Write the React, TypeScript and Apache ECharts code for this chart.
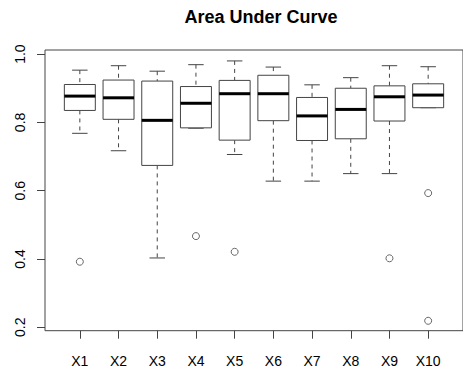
import React, { useEffect, useRef } from "react";
import * as echarts from "echarts";

const categories = ["X1", "X2", "X3", "X4", "X5", "X6", "X7", "X8", "X9", "X10"];
const lowerWhiskers = [0.768, 0.717, 0.403, 0.783, 0.706, 0.628, 0.628, 0.65, 0.65, 0.843];
const q1s = [0.835, 0.809, 0.674, 0.784, 0.748, 0.805, 0.747, 0.752, 0.804, 0.843];
const medians = [0.877, 0.872, 0.806, 0.856, 0.884, 0.884, 0.819, 0.838, 0.875, 0.88];
const q3s = [0.911, 0.924, 0.921, 0.905, 0.923, 0.938, 0.873, 0.9, 0.907, 0.913];
const upperWhiskers = [0.953, 0.966, 0.95, 0.969, 0.98, 0.962, 0.91, 0.931, 0.966, 0.963];
const outlierCategory = ["X1", "X4", "X5", "X9", "X10", "X10"];
const outlierValues = [0.392, 0.467, 0.421, 0.402, 0.593, 0.219];
const yTicks = [0.2, 0.4, 0.6, 0.8, 1.0];

const FONT = "'Liberation Sans', Arial, Helvetica, sans-serif";
const LINE = "#444";

export default function App() {
  const ref = useRef<HTMLDivElement>(null);
  useEffect(() => {
    document.body.style.margin = "0";
    const chart = echarts.init(ref.current!, null, { renderer: "svg" });
    const boxData = categories.map((c, i) => [
      i + 1,
      lowerWhiskers[i],
      q1s[i],
      medians[i],
      q3s[i],
      upperWhiskers[i],
    ]);
    const outlierData = outlierCategory.map((c, i) => [categories.indexOf(c) + 1, outlierValues[i]]);
    const xPositions = categories.map((_, i) => i + 1);

    chart.setOption({
      animation: false,
      backgroundColor: "#fff",
      title: {
        text: "Area Under Curve",
        left: 256,
        top: 3,
        textAlign: "center",
        textStyle: { fontFamily: FONT, fontSize: 18, fontWeight: "bold", color: "#000" },
      },
      grid: {
        left: 45,
        top: 50,
        width: 422.5,
        height: 280.7,
        show: true,
        borderColor: LINE,
        borderWidth: 1,
        backgroundColor: "transparent",
      },
      xAxis: {
        type: "value",
        min: 0.1,
        max: 10.9,
        splitLine: { show: false },
        axisLine: { show: false },
        axisTick: { show: true, length: 8, customValues: xPositions, lineStyle: { color: LINE } },
        axisLabel: {
          customValues: xPositions,
          formatter: (v: number) => categories[Math.round(v) - 1] ?? "",
          margin: 23,
          fontFamily: FONT,
          fontSize: 14,
          color: "#000",
        },
      },
      yAxis: {
        type: "value",
        min: 0.19,
        max: 1.012,
        splitLine: { show: false },
        axisLine: { show: false },
        axisTick: { show: true, length: 8, customValues: yTicks, lineStyle: { color: LINE } },
        axisLabel: {
          customValues: yTicks,
          formatter: (v: number) => v.toFixed(1),
          rotate: 90,
          margin: 18,
          fontFamily: FONT,
          fontSize: 14,
          color: "#000",
        },
      },
      series: [
        {
          type: "custom",
          data: boxData,
          renderItem: (params: any, api: any) => {
            const x = api.value(0);
            const lo = api.value(1);
            const q1 = api.value(2);
            const md = api.value(3);
            const q3 = api.value(4);
            const hi = api.value(5);
            const halfBox = api.size([0.4, 0])[0];
            const halfCap = api.size([0.2, 0])[0];
            const pLo = api.coord([x, lo]);
            const pQ1 = api.coord([x, q1]);
            const pMd = api.coord([x, md]);
            const pQ3 = api.coord([x, q3]);
            const pHi = api.coord([x, hi]);
            const cx = pMd[0];
            const dashed = { stroke: LINE, lineWidth: 1, lineDash: [4, 4], fill: "none" };
            const solid = { stroke: LINE, lineWidth: 1, fill: "none" };
            return {
              type: "group",
              children: [
                { type: "line", shape: { x1: cx, y1: pHi[1], x2: cx, y2: pQ3[1] }, style: dashed },
                { type: "line", shape: { x1: cx, y1: pQ1[1], x2: cx, y2: pLo[1] }, style: dashed },
                { type: "line", shape: { x1: cx - halfCap, y1: pHi[1], x2: cx + halfCap, y2: pHi[1] }, style: solid },
                { type: "line", shape: { x1: cx - halfCap, y1: pLo[1], x2: cx + halfCap, y2: pLo[1] }, style: solid },
                {
                  type: "rect",
                  shape: { x: cx - halfBox, y: pQ3[1], width: halfBox * 2, height: pQ1[1] - pQ3[1] },
                  style: { stroke: LINE, lineWidth: 1, fill: "#fff" },
                },
                {
                  type: "line",
                  shape: { x1: cx - halfBox, y1: pMd[1], x2: cx + halfBox, y2: pMd[1] },
                  style: { stroke: "#000", lineWidth: 3 },
                },
              ],
            };
          },
        },
        {
          type: "scatter",
          data: outlierData,
          symbol: "circle",
          symbolSize: 7,
          itemStyle: { color: "#fff", borderColor: LINE, borderWidth: 1 },
        },
      ],
    });
    return () => chart.dispose();
  }, []);
  return <div ref={ref} style={{ width: 463, height: 373 }} />;
}
